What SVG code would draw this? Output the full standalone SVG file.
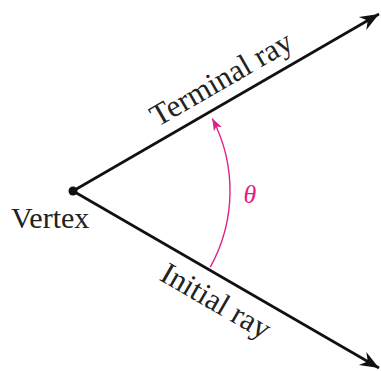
<svg xmlns="http://www.w3.org/2000/svg" width="381" height="371" viewBox="0 0 381 371">
  <style>
    .ray { stroke: #111; stroke-width: 2.6; fill: none; }
    .arc { stroke: #e0208a; stroke-width: 1.4; fill: none; }
    .lbl { font-family: "Liberation Serif", "Times New Roman", serif; font-size: 31px; fill: #222; }
    .vtx { font-size: 30px; }
    .theta { font-family: "Liberation Serif", "Times New Roman", serif; font-style: italic; font-size: 26px; fill: #e0208a; }
  </style>
  <defs>
    <marker id="ah" markerUnits="userSpaceOnUse" markerWidth="24" markerHeight="20" viewBox="-20 -10 22 20" refX="0" refY="0" orient="auto">
      <path d="M0,0 L-19,-7.5 L-13,0 L-19,7.5 Z" fill="#111"/>
    </marker>
    <marker id="ahm" markerUnits="userSpaceOnUse" markerWidth="16" markerHeight="12" viewBox="-14 -6 16 12" refX="0" refY="0" orient="auto">
      <path d="M0,0 L-12,-4.5 L-9,0 L-12,4.5 Z" fill="#e0208a"/>
    </marker>
  </defs>
  <g id="connectors">
    <line id="terminal-ray" class="ray" x1="73" y1="191" x2="379" y2="14" marker-end="url(#ah)"/>
    <line id="initial-ray" class="ray" x1="73" y1="191" x2="379" y2="368" marker-end="url(#ah)"/>
    <path id="angle-arc" class="arc" d="M 210.3 267.1 A 157 157 0 0 0 212.3 118.5" marker-end="url(#ahm)"/>
  </g>
  <g id="vertex">
    <circle cx="73" cy="191" r="4.5" fill="#111"/>
    <text class="lbl vtx" x="11" y="228">Vertex</text>
  </g>
  <g id="terminal-label">
    <text class="lbl" transform="translate(157.5 127.2) rotate(-30)">Terminal ray</text>
  </g>
  <g id="initial-label">
    <text class="lbl" transform="translate(158.2 279.4) rotate(30)">Initial ray</text>
  </g>
  <g id="theta-label">
    <text class="theta" x="250" y="203" text-anchor="middle">θ</text>
  </g>
</svg>
